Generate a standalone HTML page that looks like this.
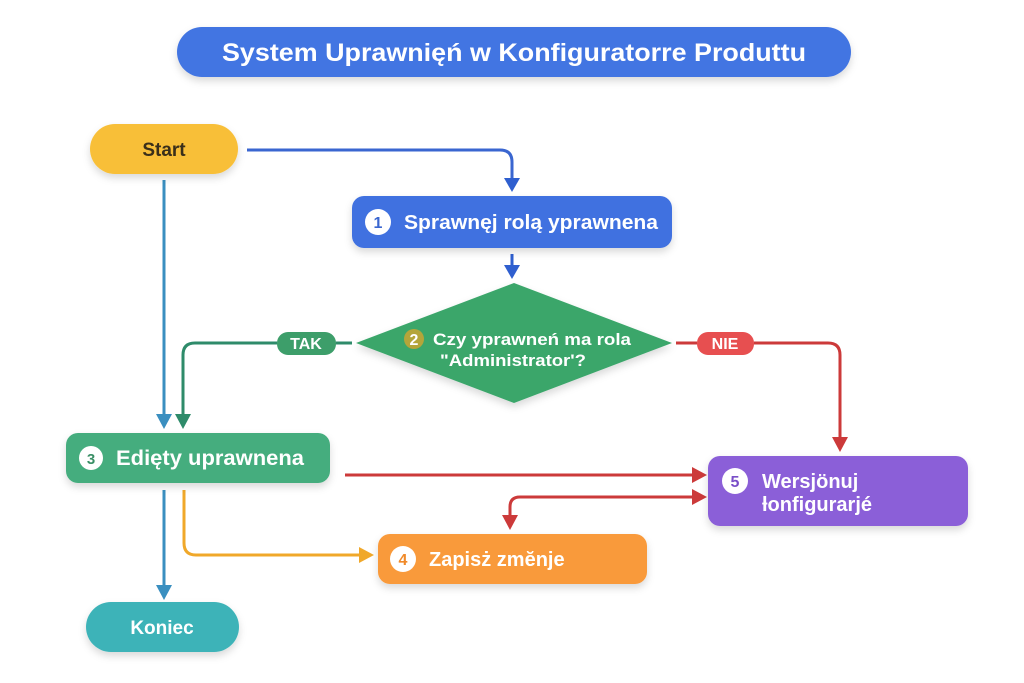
<!DOCTYPE html>
<html><head><meta charset="utf-8"><style>
html,body{margin:0;padding:0;background:#fff;}
svg{display:block;font-family:"Liberation Sans","DejaVu Sans",sans-serif;font-weight:bold;}
</style></head><body>
<svg width="1024" height="683" viewBox="0 0 1024 683" xmlns="http://www.w3.org/2000/svg">
<defs>
<filter id="sh" x="-20%" y="-30%" width="140%" height="180%"><feDropShadow dx="0" dy="4" stdDeviation="4" flood-color="#000" flood-opacity="0.15"/></filter>
</defs>
<rect width="1024" height="683" fill="#fff"/>
<!-- title -->
<rect x="177" y="27" width="674" height="50" rx="25" fill="#4274e2" filter="url(#sh)"/>
<text x="514" y="61" text-anchor="middle" fill="#fff" font-size="25" textLength="584" lengthAdjust="spacingAndGlyphs">System Uprawnięń w Konfiguratorre Produttu</text>

<!-- connectors -->
<g fill="none" stroke-width="3">
<path d="M247,150 H500 Q512,150 512,162 V180" stroke="#3a66d0"/>
<path d="M512,254 V268" stroke="#2f5fcf"/>
<path d="M164,180 V416" stroke="#3a8fc0"/>
<path d="M352,343 H336 M277,343 H195 Q183,343 183,355 V416" stroke="#2e8b6a"/>
<path d="M676,343 H697 M754,343 H828 Q840,343 840,355 V438" stroke="#cc3a3a"/>
<path d="M345,475 H694" stroke="#cc3a3a"/>
<path d="M694,497 H520 Q510,497 510,507 V516" stroke="#cc3a3a"/>
<path d="M184,490 V543 Q184,555 196,555 H360" stroke="#f0a82a"/>
<path d="M164,490 V586" stroke="#3a8fc0"/>
</g>
<g>
<path d="M504,178 H520 L512,192z" fill="#2f5fcf"/>
<path d="M504,265 H520 L512,279z" fill="#2f5fcf"/>
<path d="M156,414 H172 L164,429z" fill="#3a8fc0"/>
<path d="M175,414 H191 L183,429z" fill="#2e8b6a"/>
<path d="M832,437 H848 L840,452z" fill="#cc3a3a"/>
<path d="M692,467 V483 L707,475z" fill="#cc3a3a"/>
<path d="M692,489 V505 L707,497z" fill="#cc3a3a"/>
<path d="M502,515 H518 L510,530z" fill="#cc3a3a"/>
<path d="M359,547 V563 L374,555z" fill="#f0a82a"/>
<path d="M156,585 H172 L164,600z" fill="#3a8fc0"/>
</g>

<!-- Start -->
<rect x="90" y="124" width="148" height="50" rx="25" fill="#f8bf38" filter="url(#sh)"/>
<text x="164" y="156" text-anchor="middle" fill="#3a2f1a" font-size="19">Start</text>

<!-- box1 -->
<rect x="352" y="196" width="320" height="52" rx="12" fill="#4071e0" filter="url(#sh)"/>
<circle cx="378" cy="222" r="13" fill="#fff"/>
<text x="378" y="228" text-anchor="middle" fill="#3a66d0" font-size="16">1</text>
<text x="404" y="229" fill="#fff" font-size="20" textLength="254" lengthAdjust="spacingAndGlyphs">Sprawnęj rolą yprawnena</text>

<!-- diamond -->
<path d="M514,283 L672,343 L514,403 L356,343z" fill="#3aa66b" filter="url(#sh)"/>
<circle cx="414" cy="339" r="10" fill="#b4a53a"/>
<text x="414" y="345" text-anchor="middle" fill="#fff" font-size="16">2</text>
<text x="433" y="345" fill="#fff" font-size="17" textLength="198" lengthAdjust="spacingAndGlyphs">Czy yprawneń ma rola</text>
<text x="513" y="366" text-anchor="middle" fill="#fff" font-size="17" textLength="146" lengthAdjust="spacingAndGlyphs">"Administrator'?</text>

<rect x="277" y="332" width="59" height="23" rx="11" fill="#3d9e6a"/>
<text x="306" y="349" text-anchor="middle" fill="#fff" font-size="16">TAK</text>
<rect x="697" y="332" width="57" height="23" rx="11" fill="#e74f50"/>
<text x="725" y="349" text-anchor="middle" fill="#fff" font-size="16">NIE</text>

<!-- box3 -->
<rect x="66" y="433" width="264" height="50" rx="12" fill="#45ad7e" filter="url(#sh)"/>
<circle cx="91" cy="458" r="12" fill="#fff"/>
<text x="91" y="464" text-anchor="middle" fill="#3a8f66" font-size="15">3</text>
<text x="116" y="465" fill="#fff" font-size="21" textLength="188" lengthAdjust="spacingAndGlyphs">Ediętу uprawnena</text>

<!-- box5 -->
<rect x="708" y="456" width="260" height="70" rx="12" fill="#8b5fd8" filter="url(#sh)"/>
<circle cx="735" cy="481" r="13" fill="#fff"/>
<text x="735" y="487" text-anchor="middle" fill="#7a4fc8" font-size="16">5</text>
<text x="762" y="488" fill="#fff" font-size="20">Wersjönuj</text>
<text x="762" y="511" fill="#fff" font-size="20">ƚonfigurarjé</text>

<!-- box4 -->
<rect x="378" y="534" width="269" height="50" rx="12" fill="#f99a3b" filter="url(#sh)"/>
<circle cx="403" cy="559" r="13" fill="#fff"/>
<text x="403" y="565" text-anchor="middle" fill="#f08a2a" font-size="16">4</text>
<text x="429" y="566" fill="#fff" font-size="20">Zapisż zmĕnje</text>

<!-- Koniec -->
<rect x="86" y="602" width="153" height="50" rx="25" fill="#3cb3b8" filter="url(#sh)"/>
<text x="162" y="634" text-anchor="middle" fill="#fff" font-size="19">Koniec</text>
</svg>
</body></html>
